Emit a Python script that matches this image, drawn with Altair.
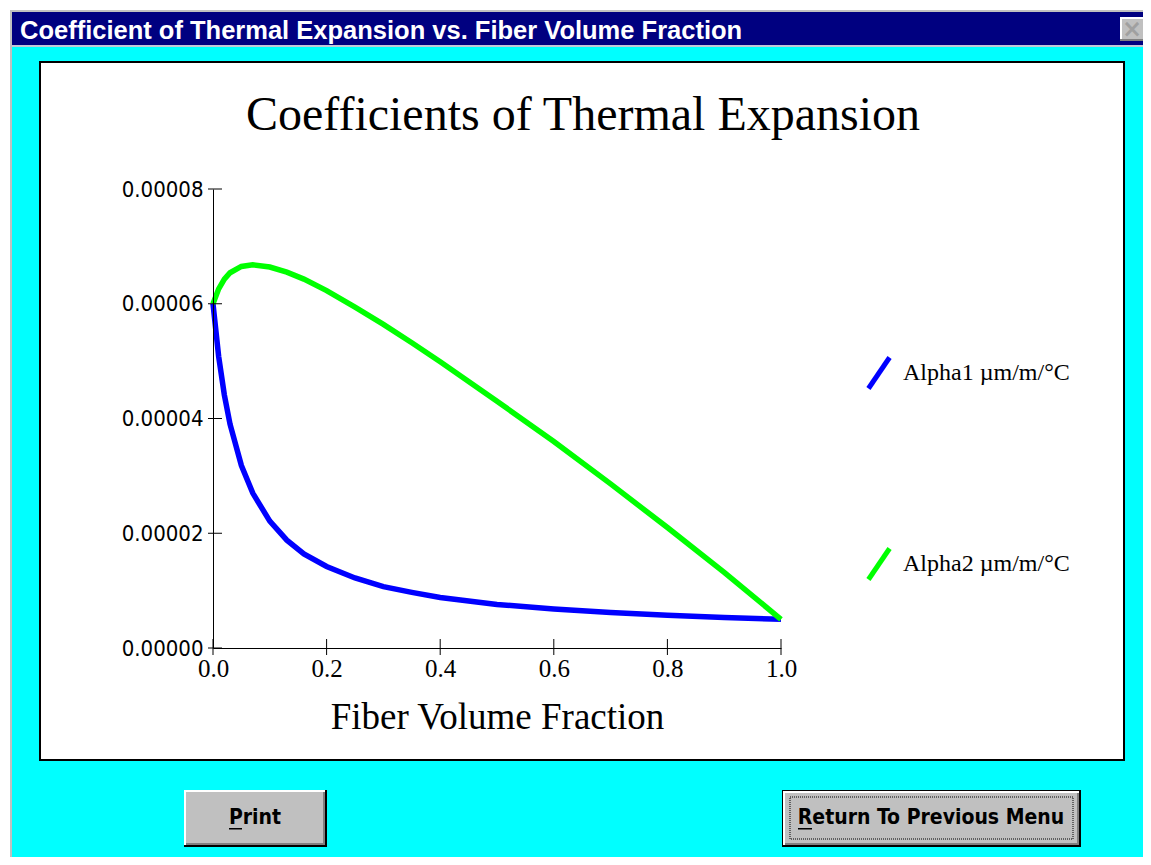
import altair as alt
import pandas as pd

# ---- data ----
fiber_volume_fraction = [0, 0.01, 0.02, 0.03, 0.05, 0.07, 0.1, 0.13, 0.16, 0.2,
                         0.25, 0.3, 0.35, 0.4, 0.5, 0.6, 0.7, 0.8, 0.9, 1.0]
alpha1 = [60.0e-6, 50.8e-6, 44.1e-6, 39.0e-6, 31.8e-6, 27.0e-6, 22.1e-6, 18.8e-6, 16.4e-6, 14.2e-6,
          12.2e-6, 10.7e-6, 9.7e-6, 8.8e-6, 7.6e-6, 6.8e-6, 6.2e-6, 5.7e-6, 5.3e-6, 5.0e-6]
alpha2 = [60.0e-6, 62.6e-6, 64.3e-6, 65.4e-6, 66.5e-6, 66.8e-6, 66.4e-6, 65.5e-6, 64.3e-6, 62.3e-6,
          59.4e-6, 56.4e-6, 53.2e-6, 49.9e-6, 43.0e-6, 36.0e-6, 28.6e-6, 21.0e-6, 13.2e-6, 5.0e-6]
series_names = ["Alpha1 \u00b5m/m/\u00b0C", "Alpha2 \u00b5m/m/\u00b0C"]
series_colors = ["#0000ff", "#00ff00"]
x_ticks = [0.0, 0.2, 0.4, 0.6, 0.8, 1.0]
y_ticks = [0.0, 0.00002, 0.00004, 0.00006, 0.00008]

window_title = "Coefficient of Thermal Expansion vs. Fiber Volume Fraction"
chart_title = "Coefficients of Thermal Expansion"
x_title = "Fiber Volume Fraction"
button1 = "Print"
button2 = "Return To Previous Menu"

W, H = 568, 459

rows = []
for name, vals in zip(series_names, [alpha1, alpha2]):
    for v, a in zip(fiber_volume_fraction, vals):
        rows.append({"vf": v, "alpha": a, "series": name})
df = pd.DataFrame(rows)

one = pd.DataFrame({"k": [0]})


def box(x, x2, y, y2, fill, **kw):
    return alt.Chart(one).mark_rect(fill=fill, **kw).encode(
        x=alt.value(x), x2=alt.value(x2), y=alt.value(y), y2=alt.value(y2))


def label(txt, x, y, **kw):
    return alt.Chart(one).mark_text(text=txt, **kw).encode(x=alt.value(x), y=alt.value(y))


SERIF = "Liberation Serif"
NARROW = "Liberation Sans Narrow, DejaVu Sans Condensed, Liberation Sans"

chrome = [
    box(-205, 935, -181, -179, "#ffffff"),
    box(-205, -203, -181, 670, "#ffffff"),
    box(-203, 935, -179, -177, "#c0c0c0"),
    box(-203, -201, -179, 670, "#c0c0c0"),
    box(-201, 935, -177, -144, "#000080"),
    box(-201, 935, -144, -142, "#c0c8d8"),
    label(window_title, -193, -150, font="Liberation Sans", fontSize=25.5, fontWeight="bold",
          color="#ffffff", align="left", baseline="alphabetic"),
    box(907, 932, -172, -148, "#808080"),
    box(907, 930, -172, -150, "#ffffff"),
    box(909, 930, -170, -150, "#c0c0c0"),
    label("\u00d7", 919, -159, font="DejaVu Sans", fontSize=24, fontWeight="bold",
          color="#a0a0a0", align="center", baseline="middle"),
    box(-173, 911, -127, 571, "#ffffff", stroke="#000000", strokeWidth=2),
    # Print button
    box(-29, 114, 601, 658, "#000000"),
    box(-29, 112, 601, 656, "#ffffff"),
    box(-27, 112, 603, 656, "#808080"),
    box(-27, 110, 603, 654, "#c0c0c0"),
    label(button1, 42, 629, font=NARROW, fontSize=21, fontWeight="bold",
          color="#000000", align="center", baseline="middle"),
    box(16, 29, 639, 640.5, "#000000"),
    # Return button
    box(569, 868, 601, 658, "#000000"),
    box(570, 866, 602, 656, "#ffffff"),
    box(572, 866, 604, 656, "#808080"),
    box(572, 864, 604, 654, "#c0c0c0"),
    box(577, 860, 608, 650, "#c0c0c0", fillOpacity=0, stroke="#000000", strokeWidth=1,
        strokeDash=[1, 1]),
    label(button2, 718, 629, font=NARROW, fontSize=21, fontWeight="bold",
          color="#000000", align="center", baseline="middle"),
    box(585, 599, 639, 640.5, "#000000"),
    # chart title
    label(chart_title, 370, -59, font=SERIF, fontSize=48, color="#000000",
          align="center", baseline="alphabetic"),
]

xscale = alt.Scale(domain=[0, 1], nice=False, zero=False)
yscale = alt.Scale(domain=[0, 0.00008], nice=False)

x_axis = alt.Axis(values=x_ticks, format=".1f", title=x_title, grid=False,
                  ticks=False, tickSize=0, labelPadding=8, labelFont=SERIF,
                  labelFontSize=25, labelColor="#000000", domainColor="#000000",
                  labelFlush=False, labelOverlap=False,
                  titleFont=SERIF, titleFontSize=37, titleFontWeight="normal",
                  titleColor="#000000", titleY=80, titleBaseline="alphabetic",
                  zindex=2)
y_axis = alt.Axis(values=y_ticks, format=".5f", title=None, grid=False,
                  ticks=False, tickSize=0, labelPadding=10, labelFont=NARROW,
                  labelFontSize=22, labelColor="#000000", domainColor="#000000",
                  labelFlush=False, labelOverlap=False,
                  zindex=2)

lines = alt.Chart(df).mark_line(strokeWidth=5.5).encode(
    x=alt.X("vf:Q", scale=xscale, axis=x_axis),
    y=alt.Y("alpha:Q", scale=yscale, axis=y_axis),
    color=alt.Color("series:N",
                    scale=alt.Scale(domain=series_names, range=series_colors),
                    legend=alt.Legend(title=None, orient="none", legendX=648, legendY=166,
                                      symbolType="M-0.68,1L0.68,-1", symbolSize=961,
                                      symbolStrokeWidth=5, labelFont=SERIF, labelFontSize=24,
                                      labelColor="#000000", labelOffset=6, rowPadding=139,
                                      labelLimit=400)),
    order="vf:Q",
)

xt = alt.Chart(pd.DataFrame({"vf": x_ticks})).mark_rule(color="#000000", strokeWidth=1).encode(
    x=alt.X("vf:Q", scale=xscale, axis=x_axis), y=alt.value(H - 9), y2=alt.value(H + 7))
yt = alt.Chart(pd.DataFrame({"alpha": y_ticks})).mark_rule(color="#000000", strokeWidth=1).encode(
    y=alt.Y("alpha:Q", scale=yscale, axis=y_axis), x=alt.value(-5), x2=alt.value(9))

chart = alt.layer(*chrome, lines, xt, yt).properties(
    width=W, height=H,
    autosize=alt.AutoSizeParams(type="none"),
    padding={"left": 205, "top": 181, "right": 362, "bottom": 209},
    background="#00ffff",
).configure_view(stroke=None)

chart.save("out.html", embed_options={"renderer": "svg", "actions": False})
